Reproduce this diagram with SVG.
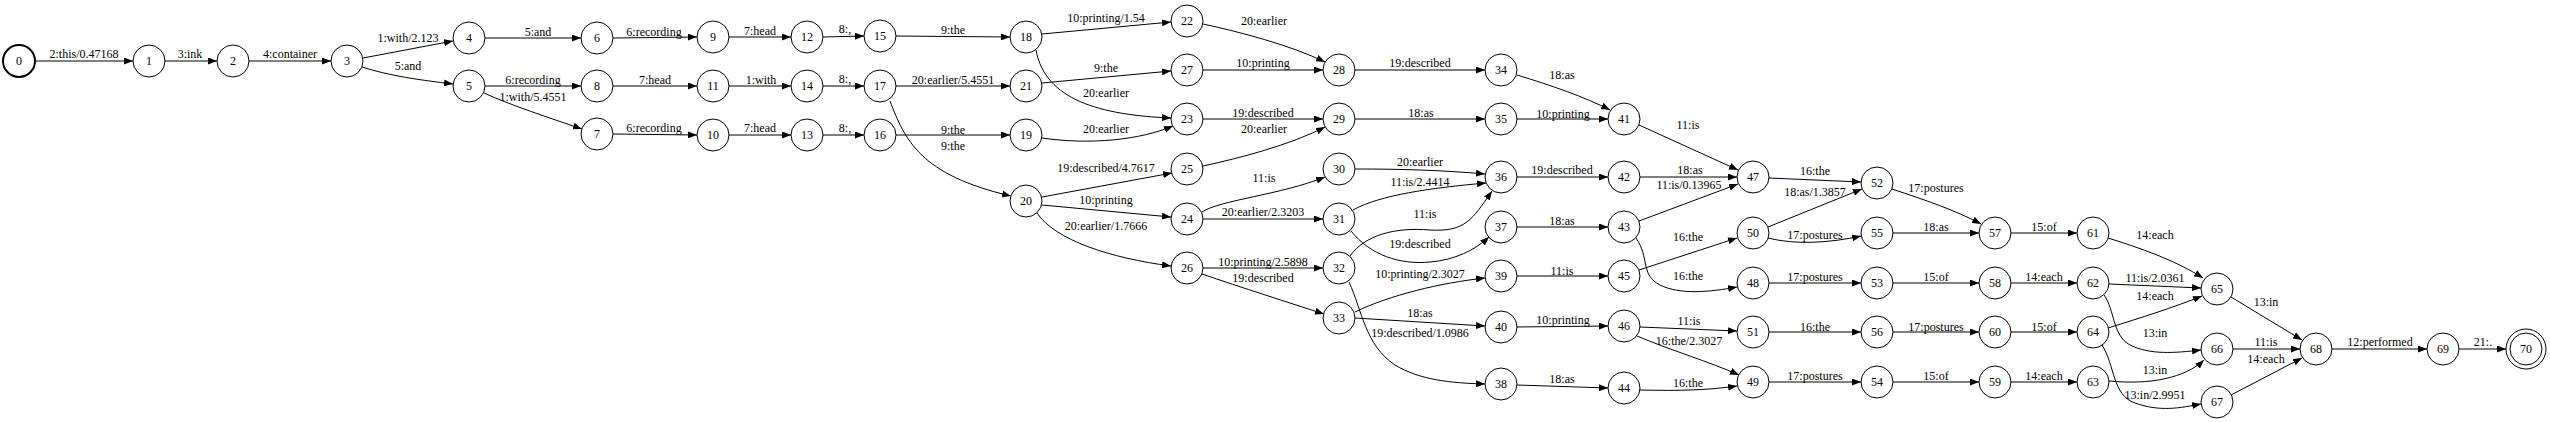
<svg xmlns="http://www.w3.org/2000/svg" width="2550" height="422" viewBox="0 0 2550 422">
<style>
.node circle{fill:#fff;stroke:#000;stroke-width:1}
.node text,.edges text{font-family:"Liberation Serif","Times New Roman",serif;font-size:12px;text-anchor:middle;fill:#000}
.edges path{fill:none;stroke:#000;stroke-width:1;marker-end:url(#arr)}
</style>
<defs>
<marker id="arr" markerWidth="9" markerHeight="7" refX="9" refY="3.5" orient="auto" markerUnits="userSpaceOnUse" viewBox="0 0 9 7"><path d="M0,0 L9,3.5 L0,7 z" fill="#000"/></marker>
</defs>
<rect width="2550" height="422" fill="#fff"/>
<g class="edges" id="edges">
<g><path d="M36,61 L133,61"/><text x="84" y="58">2:this/0.47168</text></g>
<g><path d="M165,61 L217,61"/><text x="190" y="58">3:ink</text></g>
<g><path d="M249,61 L331,61"/><text x="290" y="58">4:container</text></g>
<g><path d="M363,58 L453,41"/><text x="408" y="42">1:with/2.123</text></g>
<g><path d="M362,67 C390,76 420,80 453,84"/><text x="408" y="70">5:and</text></g>
<g><path d="M485,38 L581,38"/><text x="538" y="36">5:and</text></g>
<g><path d="M613,38 L697,37"/><text x="654" y="36">6:recording</text></g>
<g><path d="M729,37 L791,37"/><text x="760" y="35">7:head</text></g>
<g><path d="M823,37 L864,36"/><text x="845" y="33">8:,</text></g>
<g><path d="M485,86 L581,86"/><text x="533" y="84">6:recording</text></g>
<g><path d="M484,93 C510,105 550,118 582,129"/><text x="533" y="101">1:with/5.4551</text></g>
<g><path d="M613,86 L697,86"/><text x="655" y="84">7:head</text></g>
<g><path d="M729,86 L791,86"/><text x="761" y="84">1:with</text></g>
<g><path d="M823,86 L864,86"/><text x="845" y="83">8:,</text></g>
<g><path d="M613,134 L697,135"/><text x="654" y="132">6:recording</text></g>
<g><path d="M729,135 L791,135"/><text x="760" y="132">7:head</text></g>
<g><path d="M823,135 L864,135"/><text x="845" y="132">8:,</text></g>
<g><path d="M896,36 L1010,37"/><text x="953" y="34">9:the</text></g>
<g><path d="M1042,34 L1171,22"/><text x="1106" y="22">10:printing/1.54</text></g>
<g><path d="M1036,50 C1045,100 1100,115 1171,118"/><text x="1106" y="97">20:earlier</text></g>
<g><path d="M896,86 L1010,86"/><text x="953" y="84">20:earlier/5.4551</text></g>
<g><path d="M890,101 C905,140 920,175 1011,196"/><text x="953" y="150">9:the</text></g>
<g><path d="M1042,83 L1171,71"/><text x="1106" y="72">9:the</text></g>
<g><path d="M896,135 L1010,135"/><text x="953" y="134">9:the</text></g>
<g><path d="M1042,138 C1090,145 1140,140 1173,126"/><text x="1106" y="133">20:earlier</text></g>
<g><path d="M1042,197 L1172,173"/><text x="1106" y="172">19:described/4.7617</text></g>
<g><path d="M1042,205 L1171,217"/><text x="1106" y="204">10:printing</text></g>
<g><path d="M1037,213 C1055,240 1110,258 1171,266"/><text x="1106" y="230">20:earlier/1.7666</text></g>
<g><path d="M1203,24 C1240,32 1290,45 1325,62"/><text x="1264" y="25">20:earlier</text></g>
<g><path d="M1203,70 L1323,70"/><text x="1263" y="67">10:printing</text></g>
<g><path d="M1203,119 L1323,119"/><text x="1263" y="117">19:described</text></g>
<g><path d="M1203,166 C1240,158 1290,145 1325,127"/><text x="1264" y="133">20:earlier</text></g>
<g><path d="M1202,212 C1220,200 1280,195 1325,177"/><text x="1264" y="182">11:is</text></g>
<g><path d="M1203,219 L1323,219"/><text x="1263" y="216">20:earlier/2.3203</text></g>
<g><path d="M1203,268 L1323,268"/><text x="1263" y="266">10:printing/2.5898</text></g>
<g><path d="M1202,274 C1240,287 1290,303 1324,314"/><text x="1263" y="282">19:described</text></g>
<g><path d="M1355,70 L1485,70"/><text x="1420" y="67">19:described</text></g>
<g><path d="M1517,75 C1550,85 1585,97 1610,110"/><text x="1562" y="79">18:as</text></g>
<g><path d="M1355,119 L1485,119"/><text x="1421" y="117">18:as</text></g>
<g><path d="M1517,119 L1608,119"/><text x="1563" y="118">10:printing</text></g>
<g><path d="M1355,169 C1400,169 1440,170 1485,174"/><text x="1420" y="166">20:earlier</text></g>
<g><path d="M1353,210 C1380,195 1430,188 1486,183"/><text x="1420" y="186">11:is/2.4414</text></g>
<g><path d="M1350,256 C1365,235 1395,227 1430,230 C1465,232 1472,220 1492,191"/><text x="1425" y="218">11:is</text></g>
<g><path d="M1351,231 C1370,255 1400,265 1430,262 C1455,260 1475,250 1489,237"/><text x="1420" y="248">19:described</text></g>
<g><path d="M1355,312 C1390,295 1440,283 1485,278"/><text x="1420" y="278">10:printing/2.3027</text></g>
<g><path d="M1355,318 L1485,326"/><text x="1420" y="317">18:as</text></g>
<g><path d="M1349,282 C1362,310 1365,345 1395,365 C1420,380 1450,383 1485,384"/><text x="1420" y="337">19:described/1.0986</text></g>
<g><path d="M1517,177 L1608,177"/><text x="1562" y="174">19:described</text></g>
<g><path d="M1639,125 L1738,170"/><text x="1688" y="129">11:is</text></g>
<g><path d="M1640,177 L1737,177"/><text x="1690" y="174">18:as</text></g>
<g><path d="M1639,221 L1738,184"/><text x="1689" y="189">11:is/0.13965</text></g>
<g><path d="M1517,227 L1608,227"/><text x="1562" y="225">18:as</text></g>
<g><path d="M1636,238 C1650,258 1640,275 1660,285 C1680,295 1710,292 1737,287"/><text x="1688" y="280">16:the</text></g>
<g><path d="M1639,270 L1737,238"/><text x="1688" y="241">16:the</text></g>
<g><path d="M1517,276 L1608,276"/><text x="1562" y="275">11:is</text></g>
<g><path d="M1517,327 L1608,326"/><text x="1563" y="324">10:printing</text></g>
<g><path d="M1640,327 L1737,331"/><text x="1689" y="325">11:is</text></g>
<g><path d="M1637,336 C1670,350 1710,362 1739,375"/><text x="1689" y="345">16:the/2.3027</text></g>
<g><path d="M1517,385 L1608,388"/><text x="1562" y="383">18:as</text></g>
<g><path d="M1640,390 C1680,391 1710,390 1737,386"/><text x="1688" y="387">16:the</text></g>
<g><path d="M1769,178 L1861,182"/><text x="1815" y="175">16:the</text></g>
<g><path d="M1768,227 L1862,189"/><text x="1815" y="196">18:as/1.3857</text></g>
<g><path d="M1892,189 C1925,200 1955,210 1981,224"/><text x="1936" y="192">17:postures</text></g>
<g><path d="M1768,238 C1795,245 1830,243 1861,236"/><text x="1815" y="239">17:postures</text></g>
<g><path d="M1893,233 L1979,233"/><text x="1936" y="231">18:as</text></g>
<g><path d="M2011,233 L2077,233"/><text x="2044" y="231">15:of</text></g>
<g><path d="M1769,283 L1861,283"/><text x="1815" y="281">17:postures</text></g>
<g><path d="M1893,283 L1979,283"/><text x="1936" y="281">15:of</text></g>
<g><path d="M2011,283 L2077,283"/><text x="2044" y="281">14:each</text></g>
<g><path d="M1769,332 L1861,332"/><text x="1815" y="331">16:the</text></g>
<g><path d="M1893,332 L1979,332"/><text x="1936" y="331">17:postures</text></g>
<g><path d="M2011,332 L2077,332"/><text x="2044" y="331">15:of</text></g>
<g><path d="M1769,382 L1861,382"/><text x="1815" y="380">17:postures</text></g>
<g><path d="M1893,382 L1979,382"/><text x="1936" y="380">15:of</text></g>
<g><path d="M2011,382 L2077,382"/><text x="2044" y="380">14:each</text></g>
<g><path d="M2108,238 C2140,248 2175,260 2203,278"/><text x="2155" y="239">14:each</text></g>
<g><path d="M2109,284 L2201,288"/><text x="2155" y="282">11:is/2.0361</text></g>
<g><path d="M2108,328 C2140,318 2175,307 2202,296"/><text x="2155" y="300">14:each</text></g>
<g><path d="M2104,295 C2115,310 2112,335 2130,345 C2150,355 2175,353 2201,350"/><text x="2155" y="337">13:in</text></g>
<g><path d="M2109,381 C2150,385 2185,378 2204,360"/><text x="2155" y="374">13:in</text></g>
<g><path d="M2102,345 C2115,365 2112,395 2135,403 C2160,412 2180,408 2201,404"/><text x="2155" y="399">13:in/2.9951</text></g>
<g><path d="M2231,297 L2302,340"/><text x="2266" y="306">13:in</text></g>
<g><path d="M2233,349 L2300,349"/><text x="2266" y="346">11:is</text></g>
<g><path d="M2231,395 L2302,358"/><text x="2266" y="363">14:each</text></g>
<g><path d="M2332,349 L2427,349"/><text x="2380" y="346">12:performed</text></g>
<g><path d="M2459,349 L2506,349"/><text x="2483" y="346">21:.</text></g>
</g>
<g id="n0" class="node"><circle cx="19" cy="61" r="16" style="stroke-width:2"/><text x="19" y="65">0</text></g>
<g id="n1" class="node"><circle cx="149" cy="61" r="16"/><text x="149" y="65">1</text></g>
<g id="n2" class="node"><circle cx="233" cy="61" r="16"/><text x="233" y="65">2</text></g>
<g id="n3" class="node"><circle cx="347" cy="61" r="16"/><text x="347" y="65">3</text></g>
<g id="n4" class="node"><circle cx="469" cy="38" r="16"/><text x="469" y="42">4</text></g>
<g id="n5" class="node"><circle cx="469" cy="86" r="16"/><text x="469" y="90">5</text></g>
<g id="n6" class="node"><circle cx="597" cy="38" r="16"/><text x="597" y="42">6</text></g>
<g id="n8" class="node"><circle cx="597" cy="86" r="16"/><text x="597" y="90">8</text></g>
<g id="n7" class="node"><circle cx="597" cy="134" r="16"/><text x="597" y="138">7</text></g>
<g id="n9" class="node"><circle cx="713" cy="37" r="16"/><text x="713" y="41">9</text></g>
<g id="n11" class="node"><circle cx="713" cy="86" r="16"/><text x="713" y="90">11</text></g>
<g id="n10" class="node"><circle cx="713" cy="135" r="16"/><text x="713" y="139">10</text></g>
<g id="n12" class="node"><circle cx="807" cy="37" r="16"/><text x="807" y="41">12</text></g>
<g id="n14" class="node"><circle cx="807" cy="86" r="16"/><text x="807" y="90">14</text></g>
<g id="n13" class="node"><circle cx="807" cy="135" r="16"/><text x="807" y="139">13</text></g>
<g id="n15" class="node"><circle cx="880" cy="36" r="16"/><text x="880" y="40">15</text></g>
<g id="n17" class="node"><circle cx="880" cy="86" r="16"/><text x="880" y="90">17</text></g>
<g id="n16" class="node"><circle cx="880" cy="135" r="16"/><text x="880" y="139">16</text></g>
<g id="n18" class="node"><circle cx="1026" cy="37" r="16"/><text x="1026" y="41">18</text></g>
<g id="n21" class="node"><circle cx="1026" cy="86" r="16"/><text x="1026" y="90">21</text></g>
<g id="n19" class="node"><circle cx="1026" cy="135" r="16"/><text x="1026" y="139">19</text></g>
<g id="n20" class="node"><circle cx="1026" cy="201" r="16"/><text x="1026" y="205">20</text></g>
<g id="n22" class="node"><circle cx="1187" cy="21" r="16"/><text x="1187" y="25">22</text></g>
<g id="n27" class="node"><circle cx="1187" cy="70" r="16"/><text x="1187" y="74">27</text></g>
<g id="n23" class="node"><circle cx="1187" cy="119" r="16"/><text x="1187" y="123">23</text></g>
<g id="n25" class="node"><circle cx="1187" cy="169" r="16"/><text x="1187" y="173">25</text></g>
<g id="n24" class="node"><circle cx="1187" cy="219" r="16"/><text x="1187" y="223">24</text></g>
<g id="n26" class="node"><circle cx="1187" cy="268" r="16"/><text x="1187" y="272">26</text></g>
<g id="n28" class="node"><circle cx="1339" cy="70" r="16"/><text x="1339" y="74">28</text></g>
<g id="n29" class="node"><circle cx="1339" cy="119" r="16"/><text x="1339" y="123">29</text></g>
<g id="n30" class="node"><circle cx="1339" cy="169" r="16"/><text x="1339" y="173">30</text></g>
<g id="n31" class="node"><circle cx="1339" cy="219" r="16"/><text x="1339" y="223">31</text></g>
<g id="n32" class="node"><circle cx="1339" cy="268" r="16"/><text x="1339" y="272">32</text></g>
<g id="n33" class="node"><circle cx="1339" cy="318" r="16"/><text x="1339" y="322">33</text></g>
<g id="n34" class="node"><circle cx="1501" cy="70" r="16"/><text x="1501" y="74">34</text></g>
<g id="n35" class="node"><circle cx="1501" cy="119" r="16"/><text x="1501" y="123">35</text></g>
<g id="n36" class="node"><circle cx="1501" cy="177" r="16"/><text x="1501" y="181">36</text></g>
<g id="n37" class="node"><circle cx="1501" cy="227" r="16"/><text x="1501" y="231">37</text></g>
<g id="n39" class="node"><circle cx="1501" cy="276" r="16"/><text x="1501" y="280">39</text></g>
<g id="n40" class="node"><circle cx="1501" cy="327" r="16"/><text x="1501" y="331">40</text></g>
<g id="n38" class="node"><circle cx="1501" cy="384" r="16"/><text x="1501" y="388">38</text></g>
<g id="n41" class="node"><circle cx="1624" cy="119" r="16"/><text x="1624" y="123">41</text></g>
<g id="n42" class="node"><circle cx="1624" cy="177" r="16"/><text x="1624" y="181">42</text></g>
<g id="n43" class="node"><circle cx="1624" cy="227" r="16"/><text x="1624" y="231">43</text></g>
<g id="n45" class="node"><circle cx="1624" cy="276" r="16"/><text x="1624" y="280">45</text></g>
<g id="n46" class="node"><circle cx="1624" cy="326" r="16"/><text x="1624" y="330">46</text></g>
<g id="n44" class="node"><circle cx="1624" cy="388" r="16"/><text x="1624" y="392">44</text></g>
<g id="n47" class="node"><circle cx="1753" cy="177" r="16"/><text x="1753" y="181">47</text></g>
<g id="n50" class="node"><circle cx="1753" cy="233" r="16"/><text x="1753" y="237">50</text></g>
<g id="n48" class="node"><circle cx="1753" cy="283" r="16"/><text x="1753" y="287">48</text></g>
<g id="n51" class="node"><circle cx="1753" cy="332" r="16"/><text x="1753" y="336">51</text></g>
<g id="n49" class="node"><circle cx="1753" cy="382" r="16"/><text x="1753" y="386">49</text></g>
<g id="n52" class="node"><circle cx="1877" cy="183" r="16"/><text x="1877" y="187">52</text></g>
<g id="n55" class="node"><circle cx="1877" cy="233" r="16"/><text x="1877" y="237">55</text></g>
<g id="n53" class="node"><circle cx="1877" cy="283" r="16"/><text x="1877" y="287">53</text></g>
<g id="n56" class="node"><circle cx="1877" cy="332" r="16"/><text x="1877" y="336">56</text></g>
<g id="n54" class="node"><circle cx="1877" cy="382" r="16"/><text x="1877" y="386">54</text></g>
<g id="n57" class="node"><circle cx="1995" cy="233" r="16"/><text x="1995" y="237">57</text></g>
<g id="n58" class="node"><circle cx="1995" cy="283" r="16"/><text x="1995" y="287">58</text></g>
<g id="n60" class="node"><circle cx="1995" cy="332" r="16"/><text x="1995" y="336">60</text></g>
<g id="n59" class="node"><circle cx="1995" cy="382" r="16"/><text x="1995" y="386">59</text></g>
<g id="n61" class="node"><circle cx="2093" cy="233" r="16"/><text x="2093" y="237">61</text></g>
<g id="n62" class="node"><circle cx="2093" cy="283" r="16"/><text x="2093" y="287">62</text></g>
<g id="n64" class="node"><circle cx="2093" cy="332" r="16"/><text x="2093" y="336">64</text></g>
<g id="n63" class="node"><circle cx="2093" cy="382" r="16"/><text x="2093" y="386">63</text></g>
<g id="n65" class="node"><circle cx="2217" cy="289" r="16"/><text x="2217" y="293">65</text></g>
<g id="n66" class="node"><circle cx="2217" cy="349" r="16"/><text x="2217" y="353">66</text></g>
<g id="n67" class="node"><circle cx="2217" cy="402" r="16"/><text x="2217" y="406">67</text></g>
<g id="n68" class="node"><circle cx="2316" cy="349" r="16"/><text x="2316" y="353">68</text></g>
<g id="n69" class="node"><circle cx="2443" cy="349" r="16"/><text x="2443" y="353">69</text></g>
<g id="n70" class="node"><circle cx="2526" cy="349" r="20"/><circle cx="2526" cy="349" r="16"/><text x="2526" y="353">70</text></g>
</svg>
